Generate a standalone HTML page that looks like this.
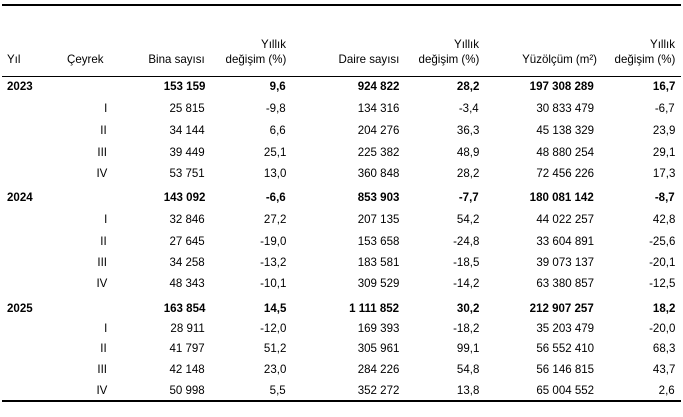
<!DOCTYPE html>
<html><head><meta charset="utf-8"><style>
body{margin:0;width:683px;height:417px;background:#fff;position:relative;overflow:hidden;font-family:"Liberation Sans",Arial,sans-serif;font-size:12px;color:#000}
.l{position:absolute;left:2px;width:679px;background:#000}
.r{position:absolute;left:0;width:683px;height:14px}
.r span{position:absolute;top:0;line-height:14px;white-space:nowrap;transform:scaleX(0.96);transform-origin:right center}
.b span{font-weight:bold}
.c1{right:478px}.c2{right:397px}.c3{right:284px}.c4{right:204px}.c5{right:89px}.c6{right:8px}.q{right:576px}
.h .c5{right:86px}
.y{left:7px;transform-origin:left center!important}
.h span{line-height:15px}
</style></head><body>
<div class="l" style="top:4px;height:2px"></div>
<div class="l" style="top:76px;height:1px"></div>
<div class="l" style="top:400px;height:2px"></div>

<div class="r h" style="top:37px"><span class="c2">Yıllık</span><span class="c4">Yıllık</span><span class="c6">Yıllık</span></div>
<div class="r h" style="top:52px"><span class="y">Yıl</span><span style="left:67px;transform-origin:left center">Çeyrek</span><span class="c1">Bina sayısı</span><span class="c2">değişim (%)</span><span class="c3">Daire sayısı</span><span class="c4">değişim (%)</span><span class="c5">Yüzölçüm (m²)</span><span class="c6">değişim (%)</span></div>

<div class="r b" style="top:79px"><span class="y">2023</span><span class="c1">153 159</span><span class="c2">9,6</span><span class="c3">924 822</span><span class="c4">28,2</span><span class="c5">197 308 289</span><span class="c6">16,7</span></div>
<div class="r" style="top:101px"><span class="q">I</span><span class="c1">25 815</span><span class="c2">-9,8</span><span class="c3">134 316</span><span class="c4">-3,4</span><span class="c5">30 833 479</span><span class="c6">-6,7</span></div>
<div class="r" style="top:123px"><span class="q">II</span><span class="c1">34 144</span><span class="c2">6,6</span><span class="c3">204 276</span><span class="c4">36,3</span><span class="c5">45 138 329</span><span class="c6">23,9</span></div>
<div class="r" style="top:145px"><span class="q">III</span><span class="c1">39 449</span><span class="c2">25,1</span><span class="c3">225 382</span><span class="c4">48,9</span><span class="c5">48 880 254</span><span class="c6">29,1</span></div>
<div class="r" style="top:166px"><span class="q">IV</span><span class="c1">53 751</span><span class="c2">13,0</span><span class="c3">360 848</span><span class="c4">28,2</span><span class="c5">72 456 226</span><span class="c6">17,3</span></div>

<div class="r b" style="top:190px"><span class="y">2024</span><span class="c1">143 092</span><span class="c2">-6,6</span><span class="c3">853 903</span><span class="c4">-7,7</span><span class="c5">180 081 142</span><span class="c6">-8,7</span></div>
<div class="r" style="top:212px"><span class="q">I</span><span class="c1">32 846</span><span class="c2">27,2</span><span class="c3">207 135</span><span class="c4">54,2</span><span class="c5">44 022 257</span><span class="c6">42,8</span></div>
<div class="r" style="top:234px"><span class="q">II</span><span class="c1">27 645</span><span class="c2">-19,0</span><span class="c3">153 658</span><span class="c4">-24,8</span><span class="c5">33 604 891</span><span class="c6">-25,6</span></div>
<div class="r" style="top:255px"><span class="q">III</span><span class="c1">34 258</span><span class="c2">-13,2</span><span class="c3">183 581</span><span class="c4">-18,5</span><span class="c5">39 073 137</span><span class="c6">-20,1</span></div>
<div class="r" style="top:276px"><span class="q">IV</span><span class="c1">48 343</span><span class="c2">-10,1</span><span class="c3">309 529</span><span class="c4">-14,2</span><span class="c5">63 380 857</span><span class="c6">-12,5</span></div>

<div class="r b" style="top:301px"><span class="y">2025</span><span class="c1">163 854</span><span class="c2">14,5</span><span class="c3">1 111 852</span><span class="c4">30,2</span><span class="c5">212 907 257</span><span class="c6">18,2</span></div>
<div class="r" style="top:321px"><span class="q">I</span><span class="c1">28 911</span><span class="c2">-12,0</span><span class="c3">169 393</span><span class="c4">-18,2</span><span class="c5">35 203 479</span><span class="c6">-20,0</span></div>
<div class="r" style="top:341px"><span class="q">II</span><span class="c1">41 797</span><span class="c2">51,2</span><span class="c3">305 961</span><span class="c4">99,1</span><span class="c5">56 552 410</span><span class="c6">68,3</span></div>
<div class="r" style="top:362px"><span class="q">III</span><span class="c1">42 148</span><span class="c2">23,0</span><span class="c3">284 226</span><span class="c4">54,8</span><span class="c5">56 146 815</span><span class="c6">43,7</span></div>
<div class="r" style="top:383px"><span class="q">IV</span><span class="c1">50 998</span><span class="c2">5,5</span><span class="c3">352 272</span><span class="c4">13,8</span><span class="c5">65 004 552</span><span class="c6">2,6</span></div>
</body></html>
